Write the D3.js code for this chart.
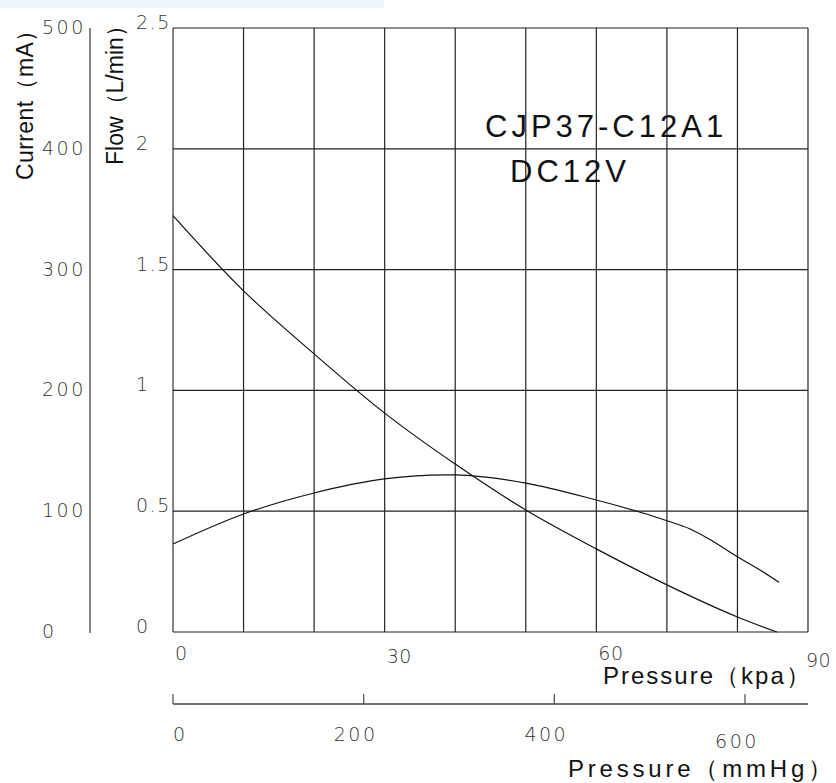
<!DOCTYPE html>
<html>
<head>
<meta charset="utf-8">
<script src="https://cdn.jsdelivr.net/npm/d3@7"></script>
<style>
  html, body { margin: 0; padding: 0; background: #fff; }
  svg { display: block; }
</style>
</head>
<body>
<svg id="chart" width="836" height="783"></svg>
<script>
// ---- data ----
const kpaTicks = [0, 30, 60, 90];
const mmHgTicks = [0, 200, 400, 600];
const flowTicks = [0, 0.5, 1, 1.5, 2, 2.5];
const flowTickLabels = ["0", "0.5", "1", "1.5", "2", "2.5"];
const currentTicks = [0, 100, 200, 300, 400, 500];

const flowKpa = [0, 10, 20, 30, 40, 50, 60, 70, 80, 85.6];
const flowValues = [1.723, 1.412, 1.151, 0.906, 0.695, 0.505, 0.344, 0.195, 0.062, 0];

const currentKpa = [0, 10, 20, 30, 40, 50, 60, 66.6, 70, 73.3, 76.5, 80, 83.2, 85.9];
const currentValues = [72.8, 97.7, 115.1, 126.7, 130.0, 123.3, 109.3, 98.5, 92.1, 85.3, 75.2, 62.3, 51.3, 41.1];

const titleLines = ["CJP37-C12A1", "DC12V"];

// ---- drawing ----
const svg = d3.select("#chart");
const tickFont = "'DejaVu Sans', sans-serif";
const textFont = "'Liberation Sans', Arial, sans-serif";

const x = d3.scaleLinear().domain([0, 90]).range([173, 808]);
const yFlow = d3.scaleLinear().domain([0, 2.5]).range([632, 28]);
const yCur = d3.scaleLinear().domain([0, 500]).range([632, 28]);
const xHg = d3.scaleLinear().domain([0, 600]).range([173, 745]);

// light band at top
svg.append("rect").attr("x", 0).attr("y", 0).attr("width", 384).attr("height", 8).attr("fill", "#eef7fc");

// grid
const grid = svg.append("g");
grid.selectAll("line.v").data(d3.range(0, 91, 10)).join("line")
  .attr("x1", d => x(d)).attr("x2", d => x(d))
  .attr("y1", yFlow(2.5)).attr("y2", yFlow(0))
  .attr("stroke", (d, i) => i === 0 ? "#777" : "#222")
  .attr("stroke-width", (d, i) => i === 0 ? 1.8 : 1.2);
grid.selectAll("line.h").data(flowTicks).join("line")
  .attr("x1", x(0)).attr("x2", x(90))
  .attr("y1", d => yFlow(d)).attr("y2", d => yFlow(d))
  .attr("stroke", "#222").attr("stroke-width", 1.2);

// flow tick labels
svg.append("g").selectAll("text").data(flowTicks).join("text")
  .attr("x", 136).attr("y", d => yFlow(d) + 1)
  .attr("font-family", tickFont).attr("font-weight", 200)
  .attr("font-size", 19).attr("letter-spacing", 1.5).attr("fill", "#333")
  .text((d, i) => flowTickLabels[i]);

// current axis
svg.append("line").attr("x1", 90).attr("x2", 90)
  .attr("y1", yCur(500)).attr("y2", yCur(0) + 1)
  .attr("stroke", "#777").attr("stroke-width", 1.8);
svg.append("g").selectAll("text").data(currentTicks).join("text")
  .attr("x", 42).attr("y", d => yCur(d) + 6)
  .attr("font-family", tickFont).attr("font-weight", 200)
  .attr("font-size", 19).attr("letter-spacing", 2.5).attr("fill", "#333")
  .text(d => d);

// kpa labels
svg.append("g").selectAll("text").data(kpaTicks).join("text")
  .attr("x", (d, i) => i === 3 ? x(d) - 2 : x(d) + 2)
  .attr("y", (d, i) => i === 1 ? 663 : (i === 3 ? 667 : 660))
  .attr("font-family", tickFont).attr("font-weight", 200)
  .attr("font-size", 19).attr("letter-spacing", 0.5).attr("fill", "#333")
  .text(d => d);

// mmHg axis
const hg = svg.append("g");
hg.append("line").attr("x1", xHg(0)).attr("x2", x(90))
  .attr("y1", 704).attr("y2", 704).attr("stroke", "#444").attr("stroke-width", 1.5);
hg.selectAll("line.t").data(mmHgTicks).join("line")
  .attr("x1", d => xHg(d)).attr("x2", d => xHg(d))
  .attr("y1", 694).attr("y2", 704).attr("stroke", "#555").attr("stroke-width", 1.3);
hg.selectAll("text").data(mmHgTicks).join("text")
  .attr("x", (d, i) => i === 0 ? xHg(d) : xHg(d) - 8)
  .attr("y", (d, i) => i === 3 ? 748 : 741)
  .attr("text-anchor", (d, i) => i === 0 ? "start" : "middle")
  .attr("font-family", tickFont).attr("font-weight", 200)
  .attr("font-size", 19).attr("letter-spacing", 2.5).attr("fill", "#333")
  .text(d => d);

// curves
const lineFlow = d3.line().x(d => x(d[0])).y(d => yFlow(d[1])).curve(d3.curveCatmullRom);
const lineCur = d3.line().x(d => x(d[0])).y(d => yCur(d[1])).curve(d3.curveCatmullRom);
svg.append("path").attr("d", lineFlow(d3.zip(flowKpa, flowValues)))
  .attr("fill", "none").attr("stroke", "#111").attr("stroke-width", 1.2);
svg.append("path").attr("d", lineCur(d3.zip(currentKpa, currentValues)))
  .attr("fill", "none").attr("stroke", "#111").attr("stroke-width", 1.2);

// title
svg.append("text").attr("x", 485).attr("y", 137)
  .attr("font-family", textFont).attr("font-size", 31).attr("letter-spacing", 4)
  .attr("fill", "#111").text(titleLines[0]);
svg.append("text").attr("x", 510).attr("y", 182)
  .attr("font-family", textFont).attr("font-size", 31).attr("letter-spacing", 4)
  .attr("fill", "#111").text(titleLines[1]);

// axis titles
svg.append("text").attr("x", 603).attr("y", 684)
  .attr("font-family", textFont).attr("font-size", 24).attr("letter-spacing", 2.0)
  .attr("fill", "#111").text("Pressure（kpa）");
svg.append("text").attr("x", 568).attr("y", 777)
  .attr("font-family", textFont).attr("font-size", 24).attr("letter-spacing", 3.8)
  .attr("fill", "#111").text("Pressure（mmHg）");
svg.append("text").attr("transform", "translate(33,180) rotate(-90)")
  .attr("font-family", textFont).attr("font-size", 23).attr("letter-spacing", 0.4)
  .attr("fill", "#111").text("Current（mA）");
svg.append("text").attr("transform", "translate(123,165) rotate(-90)")
  .attr("font-family", textFont).attr("font-size", 23)
  .attr("fill", "#111").text("Flow（L/min）");
</script>
</body>
</html>
